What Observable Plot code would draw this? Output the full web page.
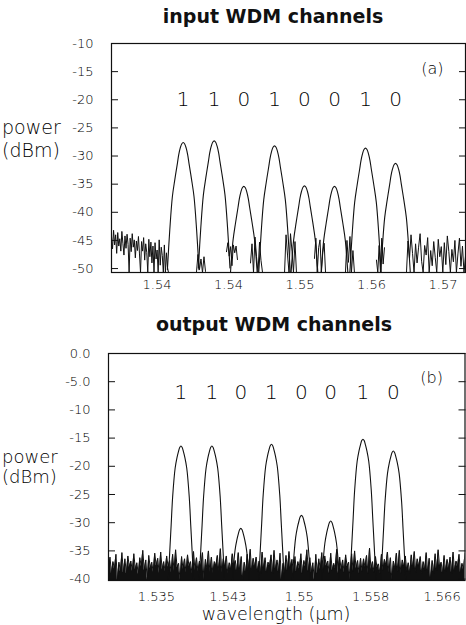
<!DOCTYPE html>
<html><head><meta charset="utf-8">
<script src="https://cdn.jsdelivr.net/npm/d3@7"></script>
<script src="https://cdn.jsdelivr.net/npm/@observablehq/plot@0.6"></script>
<style>
body{margin:0;background:#fff;}
#wrap{position:relative;width:466px;height:625px;overflow:hidden;font-family:"DejaVu Sans",sans-serif;color:#000;background:#fff;}
.t{position:absolute;white-space:nowrap;line-height:1;z-index:2;}
.p{position:absolute;left:0;z-index:1;}
.h{font-weight:700;font-size:19px;transform:translateX(-50%);color:#111;}
.a{font-size:19px;font-weight:200;}
.b{font-size:18px;font-weight:200;}
</style></head><body><div id="wrap">
<div class="p" id="top" style="top:0"></div>
<div class="p" id="bot" style="top:300px"></div>
<div class="t h" style="left:273px;top:7px;">input WDM channels</div>
<div class="t h" style="left:274px;top:315px;">output WDM channels</div>
<div class="t a" style="left:2px;top:118px;">power</div>
<div class="t a" style="left:2px;top:141px;">(dBm)</div>
<div class="t b" style="left:2px;top:448px;">power</div>
<div class="t b" style="left:2px;top:468px;">(dBm)</div>
<div class="t" style="left:276px;top:606px;transform:translateX(-50%);font-size:17.5px;font-weight:200">wavelength (µm)</div>
</div>
<script>
// ---------- shared axis data ----------
const xTicks = [1.535, 1.5425, 1.55, 1.5575, 1.565];
const topXLabels = ["1.54", "1.54", "1.55", "1.56", "1.57"];
const botXLabels = ["1.535", "1.543", "1.55", "1.558", "1.566"];
const topYTicks = [-10, -15, -20, -25, -30, -35, -40, -45, -50];
const topYLabels = ["-10", "-15", "-20", "-25", "-30", "-35", "-40", "-45", "-50"];
const botYTicks = [0, -5, -10, -15, -20, -25, -30, -35, -40];
const botYLabels = ["0.0", "-5.0", "-10", "-15", "-20", "-25", "-30", "-35", "-40"];
const bits = ["1", "1", "0", "1", "0", "0", "1", "0"];
const topBitsLevel = -20;
const botBitsLevel = -7;

// ---------- input (top) channels ----------
const topCenters = [1.53775, 1.54100, 1.54411, 1.54733, 1.55047, 1.55362, 1.55687, 1.56002];
const topPeaks = [-27.6, -27.3, -35.4, -28.2, -35.3, -35.4, -28.6, -31.3];
// channel line shape: offset (µm) and drop below peak (dB)
const topShapeOffset = [-0.001657, -0.001406, -0.001133, -0.000871, -0.000608, -0.000472, -0.000315, -0.000157, 0, 0.000157, 0.000315, 0.000472, 0.000608, 0.000871, 0.001133, 0.001406, 0.001657];
const topShapeDrop = [22.6, 15.5, 9.6, 6.5, 3.7, 2.2, 1.0, 0.25, 0, 0.25, 1.0, 2.2, 3.7, 6.5, 9.6, 15.5, 22.6];
// noise floor segments (start, end wavelength) and readings
const topNoiseFrom = [1.53023, 1.53914, 1.54229, 1.54481, 1.54838, 1.55152, 1.55477, 1.55802, 1.56117];
const topNoiseTo = [1.53621, 1.54009, 1.54344, 1.54607, 1.54963, 1.55268, 1.55571, 1.55886, 1.56736];
const topNoiseLeft = [-44.3,-46.5,-43.2,-45.8,-44.0,-47.3,-43.6,-46.0,-44.7,-46.9,-43.4,-45.5,-47.6,-44.2,-46.4,-43.9,-45.7,-50.7,-44.6,-47.0,-43.8,-46.2,-44.9,-48.1,-45.1,-46.8,-44.3,-47.4,-50.7,-45.2,-46.9,-44.5,-48.5,-45.6,-47.1,-50.7,-44.8,-47.9,-45.3,-49.0,-46.0,-50.7,-45.4,-48.3,-46.7,-50.7,-44.9,-49.4,-46.2,-47.7,-50.7,-45.8,-50.7,-47.2,-49.8,-50.7];
const topNoiseDip12 = [-50.7,-47.5,-50.2,-48.3,-50.7,-47.9,-50.5];
const topNoiseDip23 = [-47.0,-45.4,-47.8,-46.1,-49.5,-45.8,-47.2,-46.0,-48.4];
const topNoiseDip34 = [-49.0,-45.6,-50.7,-44.4,-47.9,-50.7,-45.3,-48.6,-50.7];
const topNoiseDip45 = [-50.7,-44.0,-47.6,-50.7,-43.8,-46.9,-50.7,-45.2,-50.7];
const topNoiseDip56 = [-48.2,-44.6,-50.7,-46.3,-44.9,-50.7,-47.1,-45.5,-50.7];
const topNoiseDip67 = [-50.7,-45.0,-48.9,-44.3,-50.7,-46.8,-50.7];
const topNoiseDip78 = [-48.5,-50.7,-45.9,-50.7,-44.6,-49.2,-46.3];
const topNoiseRight = [-50.7,-45.1,-48.2,-44.0,-47.3,-50.7,-45.6,-49.0,-46.2,-43.8,-48.7,-50.7,-45.9,-47.6,-44.5,-50.7,-46.8,-49.5,-45.2,-48.0,-50.7,-44.8,-47.9,-46.1,-50.7,-45.4,-49.3,-44.2,-47.0,-50.7,-46.6,-48.8,-45.0,-50.7,-47.4,-44.6,-49.6,-46.0,-50.7,-47.8];

// ---------- output (bottom) channels ----------
const botCenters = [1.53757, 1.54082, 1.54386, 1.54708, 1.55023, 1.55330, 1.55669, 1.55988];
const botPeaks = [-16.4, -16.4, -31.0, -16.1, -28.7, -29.7, -15.2, -17.3];
const botShapeOffset = [-0.001364, -0.001185, -0.001028, -0.000871, -0.000608, -0.00042, -0.000262, -0.000131, 0, 0.000131, 0.000262, 0.00042, 0.000608, 0.000871, 0.001028, 0.001185, 0.001364];
const botShapeDrop = [25, 19, 14, 9, 3.9, 2.1, 1.0, 0.25, 0, 0.25, 1.0, 2.1, 3.9, 9, 14, 19, 25];
const botNoiseFrom = 1.52996;
const botNoiseTo = 1.56741;
const botNoiseFloor = -40.25;
const botNoise = [
-38.4,-36.1,-39.0,-36.9,-38.2,-35.6,-40.2,-37.0,-38.7,-35.3,-38.9,-36.4,-39.1,-35.9,-37.9,-36.8,-38.6,-35.5,-38.3,-37.1,
-39.2,-36.2,-37.8,-34.9,-38.5,-36.6,-40.2,-35.8,-38.1,-37.0,-38.8,-35.4,-37.7,-36.3,-39.0,-35.2,-38.4,-36.9,-38.7,-35.9,
-37.9,-36.7,-38.9,-35.6,-38.6,-34.8,-38.0,-37.2,-40.2,-36.0,-38.3,-36.4,-38.9,-35.7,-37.8,-36.9,-39.1,-35.1,-38.5,-36.2,
-38.7,-36.8,-37.9,-35.3,-40.2,-36.5,-38.2,-35.0,-38.8,-36.1,-39.0,-36.9,-37.7,-35.8,-38.6,-34.6,-38.9,-36.4,-38.0,-35.9,
-39.1,-37.1,-38.4,-35.5,-37.8,-36.7,-38.9,-35.3,-38.7,-36.0,-40.2,-37.0,-39.0,-35.6,-38.5,-34.7,-38.8,-36.3,-37.9,-36.1,
-38.6,-36.8,-39.0,-35.2,-38.2,-36.2,-38.9,-37.0,-37.7,-35.7,-39.1,-34.9,-38.4,-36.6,-38.8,-35.4,-40.2,-37.2,-39.0,-35.8,
-38.5,-35.1,-37.9,-36.5,-39.1,-36.0,-38.7,-36.9,-38.2,-35.5,-39.0,-36.7,-37.8,-34.8,-38.6,-36.2,-38.9,-37.1,-40.2,-35.6,
-39.1,-36.4,-38.3,-35.3,-38.8,-35.9,-37.7,-36.8,-39.0,-35.4,-38.5,-37.2,-38.1,-34.7,-39.1,-36.1,-38.4,-36.6,-38.9,-35.7,
-37.8,-37.0,-40.2,-35.5,-38.6,-35.0,-38.2,-36.7,-39.1,-36.3,-38.7,-36.4,-37.9,-35.8,-39.0,-34.5,-38.3,-36.9,-38.8,-36.0,
-38.0,-37.3,-39.1,-35.6,-38.5,-36.5,-37.6,-35.2,-38.9,-36.2,-40.2,-36.8,-38.2,-35.4,-38.7,-34.9,-39.1,-36.6,-37.9,-35.9,
-38.6,-37.1,-39.0,-35.7,-38.1,-35.1,-38.8,-36.4,-37.8,-36.0,-39.1,-36.9,-38.4,-35.3,-38.9,-36.3,-40.2,-36.7,-39.0,-35.5,
-38.5,-34.8,-37.9,-37.0,-39.1,-35.8,-38.7,-36.5,-38.2,-36.1,-39.0,-35.2,-38.6,-36.8,-37.8,-35.6,-38.9,-37.2,-38.3,-35.4];

// ---------- build tables ----------
function peakTable(centers, peaks, offs, drops) {
  const rows = [];
  centers.forEach((c, i) => offs.forEach((o, j) => rows.push({ch: i, x: c + o, y: peaks[i] - drops[j]})));
  return rows;
}
function noiseTable(from, to, vals, key) {
  return vals.map((v, j) => ({seg: key, x: from + (to - from) * j / (vals.length - 1), y: v}));
}
const topNoiseSegs = [topNoiseLeft, topNoiseDip12, topNoiseDip23, topNoiseDip34, topNoiseDip45, topNoiseDip56, topNoiseDip67, topNoiseDip78, topNoiseRight];
const topNoiseRows = topNoiseSegs.flatMap((vals, k) => noiseTable(topNoiseFrom[k], topNoiseTo[k], vals, k));
const topPeakRows = peakTable(topCenters, topPeaks, topShapeOffset, topShapeDrop);
const botNoiseRows = noiseTable(botNoiseFrom, botNoiseTo, botNoise, 0);
const botPeakRows = peakTable(botCenters, botPeaks, botShapeOffset, botShapeDrop);

const ink = "#111";
const txt = "#000";
const fmt = (ticks, labels) => d => labels[ticks.indexOf(d)];

function panel(o) {
  return Plot.plot({
    width: 466, height: o.height,
    marginLeft: o.ml, marginRight: o.mr, marginTop: o.mt, marginBottom: o.mb,
    x: {domain: o.xDomain},
    y: {domain: o.yDomain},
    style: {fontFamily: "'DejaVu Sans', sans-serif", fontSize: "13px", fontWeight: 200, color: txt, background: "transparent", overflow: "visible"},
    marks: [
      o.floor != null ? Plot.areaY(o.noise, {x: "x", y1: () => o.floor, y2: "y", fill: ink, clip: true}) : null,
      Plot.line(o.noise, {x: "x", y: "y", z: "seg", stroke: ink, strokeWidth: 1, clip: true}),
      Plot.line(o.peaks, {x: "x", y: "y", z: "ch", stroke: ink, strokeWidth: 1.1, curve: "catmull-rom", clip: true}),
      Plot.frame({stroke: ink, strokeWidth: 1.2}),
      Plot.axisY(o.yTicks, {anchor: "left", tickSize: -7, tickPadding: 25, tickFormat: fmt(o.yTicks, o.yLabels), label: null, stroke: ink}),
      Plot.axisY(o.yTicks, {anchor: "right", tickSize: -7, tickFormat: () => "", label: null, stroke: ink}),
      Plot.axisX(xTicks, {anchor: "bottom", tickSize: 0, tickPadding: o.xPad, tickFormat: fmt(xTicks, o.xLabels), label: null}),
      Plot.text(bits, {x: (d, i) => o.centers[i], y: () => o.bitsLevel, text: d => d, fontSize: 20, fontWeight: 200, fill: txt}),
      Plot.text([o.tag], {frameAnchor: "top-right", dx: -22, dy: o.tagDy, fontSize: 16, fontWeight: 200, textAnchor: "end", fill: txt})
    ]
  });
}

document.getElementById("top").append(panel({
  height: 300, ml: 111, mr: 1, mt: 43, mb: 28,
  xDomain: [1.53023, 1.56736], yDomain: [-50.7, -10],
  yTicks: topYTicks, yLabels: topYLabels, xLabels: topXLabels, xPad: 7,
  noise: topNoiseRows, peaks: topPeakRows, centers: topCenters, bitsLevel: topBitsLevel,
  tag: "(a)", tagDy: 19, floor: null
}));
document.getElementById("bot").append(panel({
  height: 325, ml: 108, mr: 1.5, mt: 53, mb: 45,
  xDomain: [1.52996, 1.56741], yDomain: [botNoiseFloor, 0],
  yTicks: botYTicks, yLabels: botYLabels, xLabels: botXLabels, xPad: 11,
  noise: botNoiseRows, peaks: botPeakRows, centers: botCenters, bitsLevel: botBitsLevel,
  tag: "(b)", tagDy: 18, floor: botNoiseFloor
}));
</script>
</body></html>
